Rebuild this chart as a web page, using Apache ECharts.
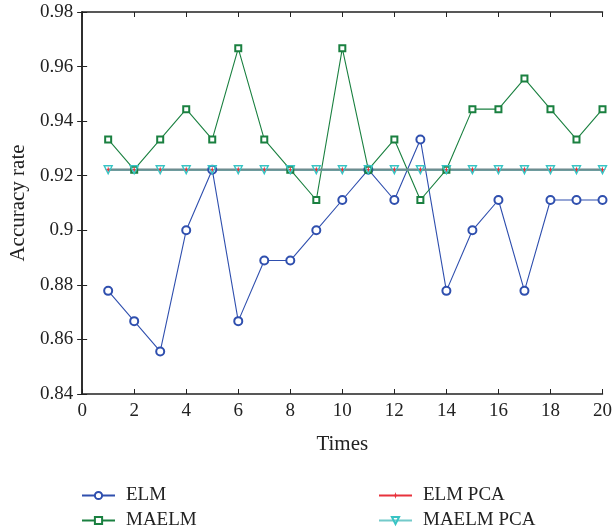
<!DOCTYPE html>
<html>
<head>
    <meta charset="UTF-8">
    <title>Accuracy rate</title>
    <script src="https://cdn.jsdelivr.net/npm/echarts@6/dist/echarts.min.js"></script>
    <style>
        html, body { margin: 0; padding: 0; background: #fff; }
        #main { width: 615px; height: 531px; }
    </style>
</head>
<body>
    <div id="main"></div>
    <script>
        var times = [1, 2, 3, 4, 5, 6, 7, 8, 9, 10, 11, 12, 13, 14, 15, 16, 17, 18, 19, 20];
        var elm = [0.8778, 0.8667, 0.8556, 0.9, 0.9222, 0.8667, 0.8889, 0.8889, 0.9, 0.9111,
                   0.9222, 0.9111, 0.9333, 0.8778, 0.9, 0.9111, 0.8778, 0.9111, 0.9111, 0.9111];
        var maelm = [0.9333, 0.9222, 0.9333, 0.9444, 0.9333, 0.9667, 0.9333, 0.9222, 0.9111, 0.9667,
                     0.9222, 0.9333, 0.9111, 0.9222, 0.9444, 0.9444, 0.9556, 0.9444, 0.9333, 0.9444];
        var elmPca = [0.9222, 0.9222, 0.9222, 0.9222, 0.9222, 0.9222, 0.9222, 0.9222, 0.9222, 0.9222,
                      0.9222, 0.9222, 0.9222, 0.9222, 0.9222, 0.9222, 0.9222, 0.9222, 0.9222, 0.9222];
        var maelmPca = [0.9222, 0.9222, 0.9222, 0.9222, 0.9222, 0.9222, 0.9222, 0.9222, 0.9222, 0.9222,
                        0.9222, 0.9222, 0.9222, 0.9222, 0.9222, 0.9222, 0.9222, 0.9222, 0.9222, 0.9222];

        function pairs(ys) {
            return times.map(function (t, i) { return [t, ys[i]]; });
        }

        var font = 'Liberation Serif';
        var starPath = 'path://M5,0L6,4L10,5L6,6L5,10L4,6L0,5L4,4Z';

        // one legend per entry so the 2x2 layout stays put
        function legendAt(name, left, top) {
            return {
                left: left, top: top, itemWidth: 33, itemHeight: 9, itemGap: 0,
                textStyle: {fontFamily: font, fontSize: 19, color: '#222', padding: [0, 0, 0, 6]},
                data: [name]
            };
        }

        var chart = echarts.init(document.getElementById('main'), null, {renderer: 'canvas'});
        var axisLine = {show: true, lineStyle: {color: '#222', width: 1.5}};
        chart.setOption({
            animation: false,
            textStyle: {fontFamily: font},
            grid: {left: 81, right: 8, top: 12, bottom: 137},
            legend: [
                legendAt('ELM', 76, 481),
                legendAt('MAELM', 76, 506),
                legendAt('ELM PCA', 373, 481),
                legendAt('MAELM PCA', 373, 506)
            ],
            xAxis: [{
                type: 'value', min: 0, max: 20, interval: 2,
                name: 'Times', nameLocation: 'middle', nameGap: 40,
                nameTextStyle: {fontFamily: font, fontSize: 21, color: '#222'},
                axisLine: axisLine,
                axisTick: {inside: true, length: 5, lineStyle: {color: '#222'}},
                axisLabel: {fontFamily: font, fontSize: 19, color: '#222', margin: 8},
                splitLine: {show: false}
            }, {
                type: 'value', min: 0, max: 20, interval: 2, position: 'top',
                axisLine: axisLine,
                axisTick: {inside: true, length: 5, lineStyle: {color: '#222'}},
                axisLabel: {show: false}, splitLine: {show: false}
            }],
            yAxis: [{
                type: 'value', min: 0.84, max: 0.98, interval: 0.02,
                name: 'Accuracy rate', nameLocation: 'middle', nameGap: 53,
                nameTextStyle: {fontFamily: font, fontSize: 21, color: '#222'},
                axisLine: axisLine,
                axisTick: {inside: true, length: 5, lineStyle: {color: '#222'}},
                axisLabel: {fontFamily: font, fontSize: 19, color: '#222', margin: 9,
                    formatter: function (v) { return String(+v.toFixed(2)); }},
                splitLine: {show: false}
            }, {
                type: 'value', min: 0.84, max: 0.98, interval: 0.02, position: 'right',
                axisLine: axisLine,
                axisTick: {inside: true, length: 5, lineStyle: {color: '#222'}},
                axisLabel: {show: false}, splitLine: {show: false}
            }],
            series: [{
                name: 'ELM', type: 'line', data: pairs(elm),
                symbol: 'emptyCircle', symbolSize: 8,
                itemStyle: {color: '#2f4fae', borderWidth: 1.2},
                lineStyle: {color: '#2f4fae', width: 1.1}
            }, {
                name: 'MAELM', type: 'line', data: pairs(maelm),
                symbol: 'emptyRect', symbolSize: 6,
                itemStyle: {color: '#1a8040', borderWidth: 1.3},
                lineStyle: {color: '#1a8040', width: 1.1}
            }, {
                name: 'ELM PCA', type: 'line', data: pairs(elmPca),
                symbol: starPath, symbolSize: 7,
                itemStyle: {color: '#e8323c'},
                lineStyle: {color: '#e8323c', width: 2}
            }, {
                name: 'MAELM PCA', type: 'line', data: pairs(maelmPca),
                symbol: 'path://M0,0L10,0L5,9Z', symbolSize: 8,
                itemStyle: {color: 'rgba(0,0,0,0)', borderColor: '#38c4c4', borderWidth: 1.4},
                lineStyle: {color: 'rgba(56,180,180,0.7)', width: 2.5}
            }]
        });
    </script>
</body>
</html>
